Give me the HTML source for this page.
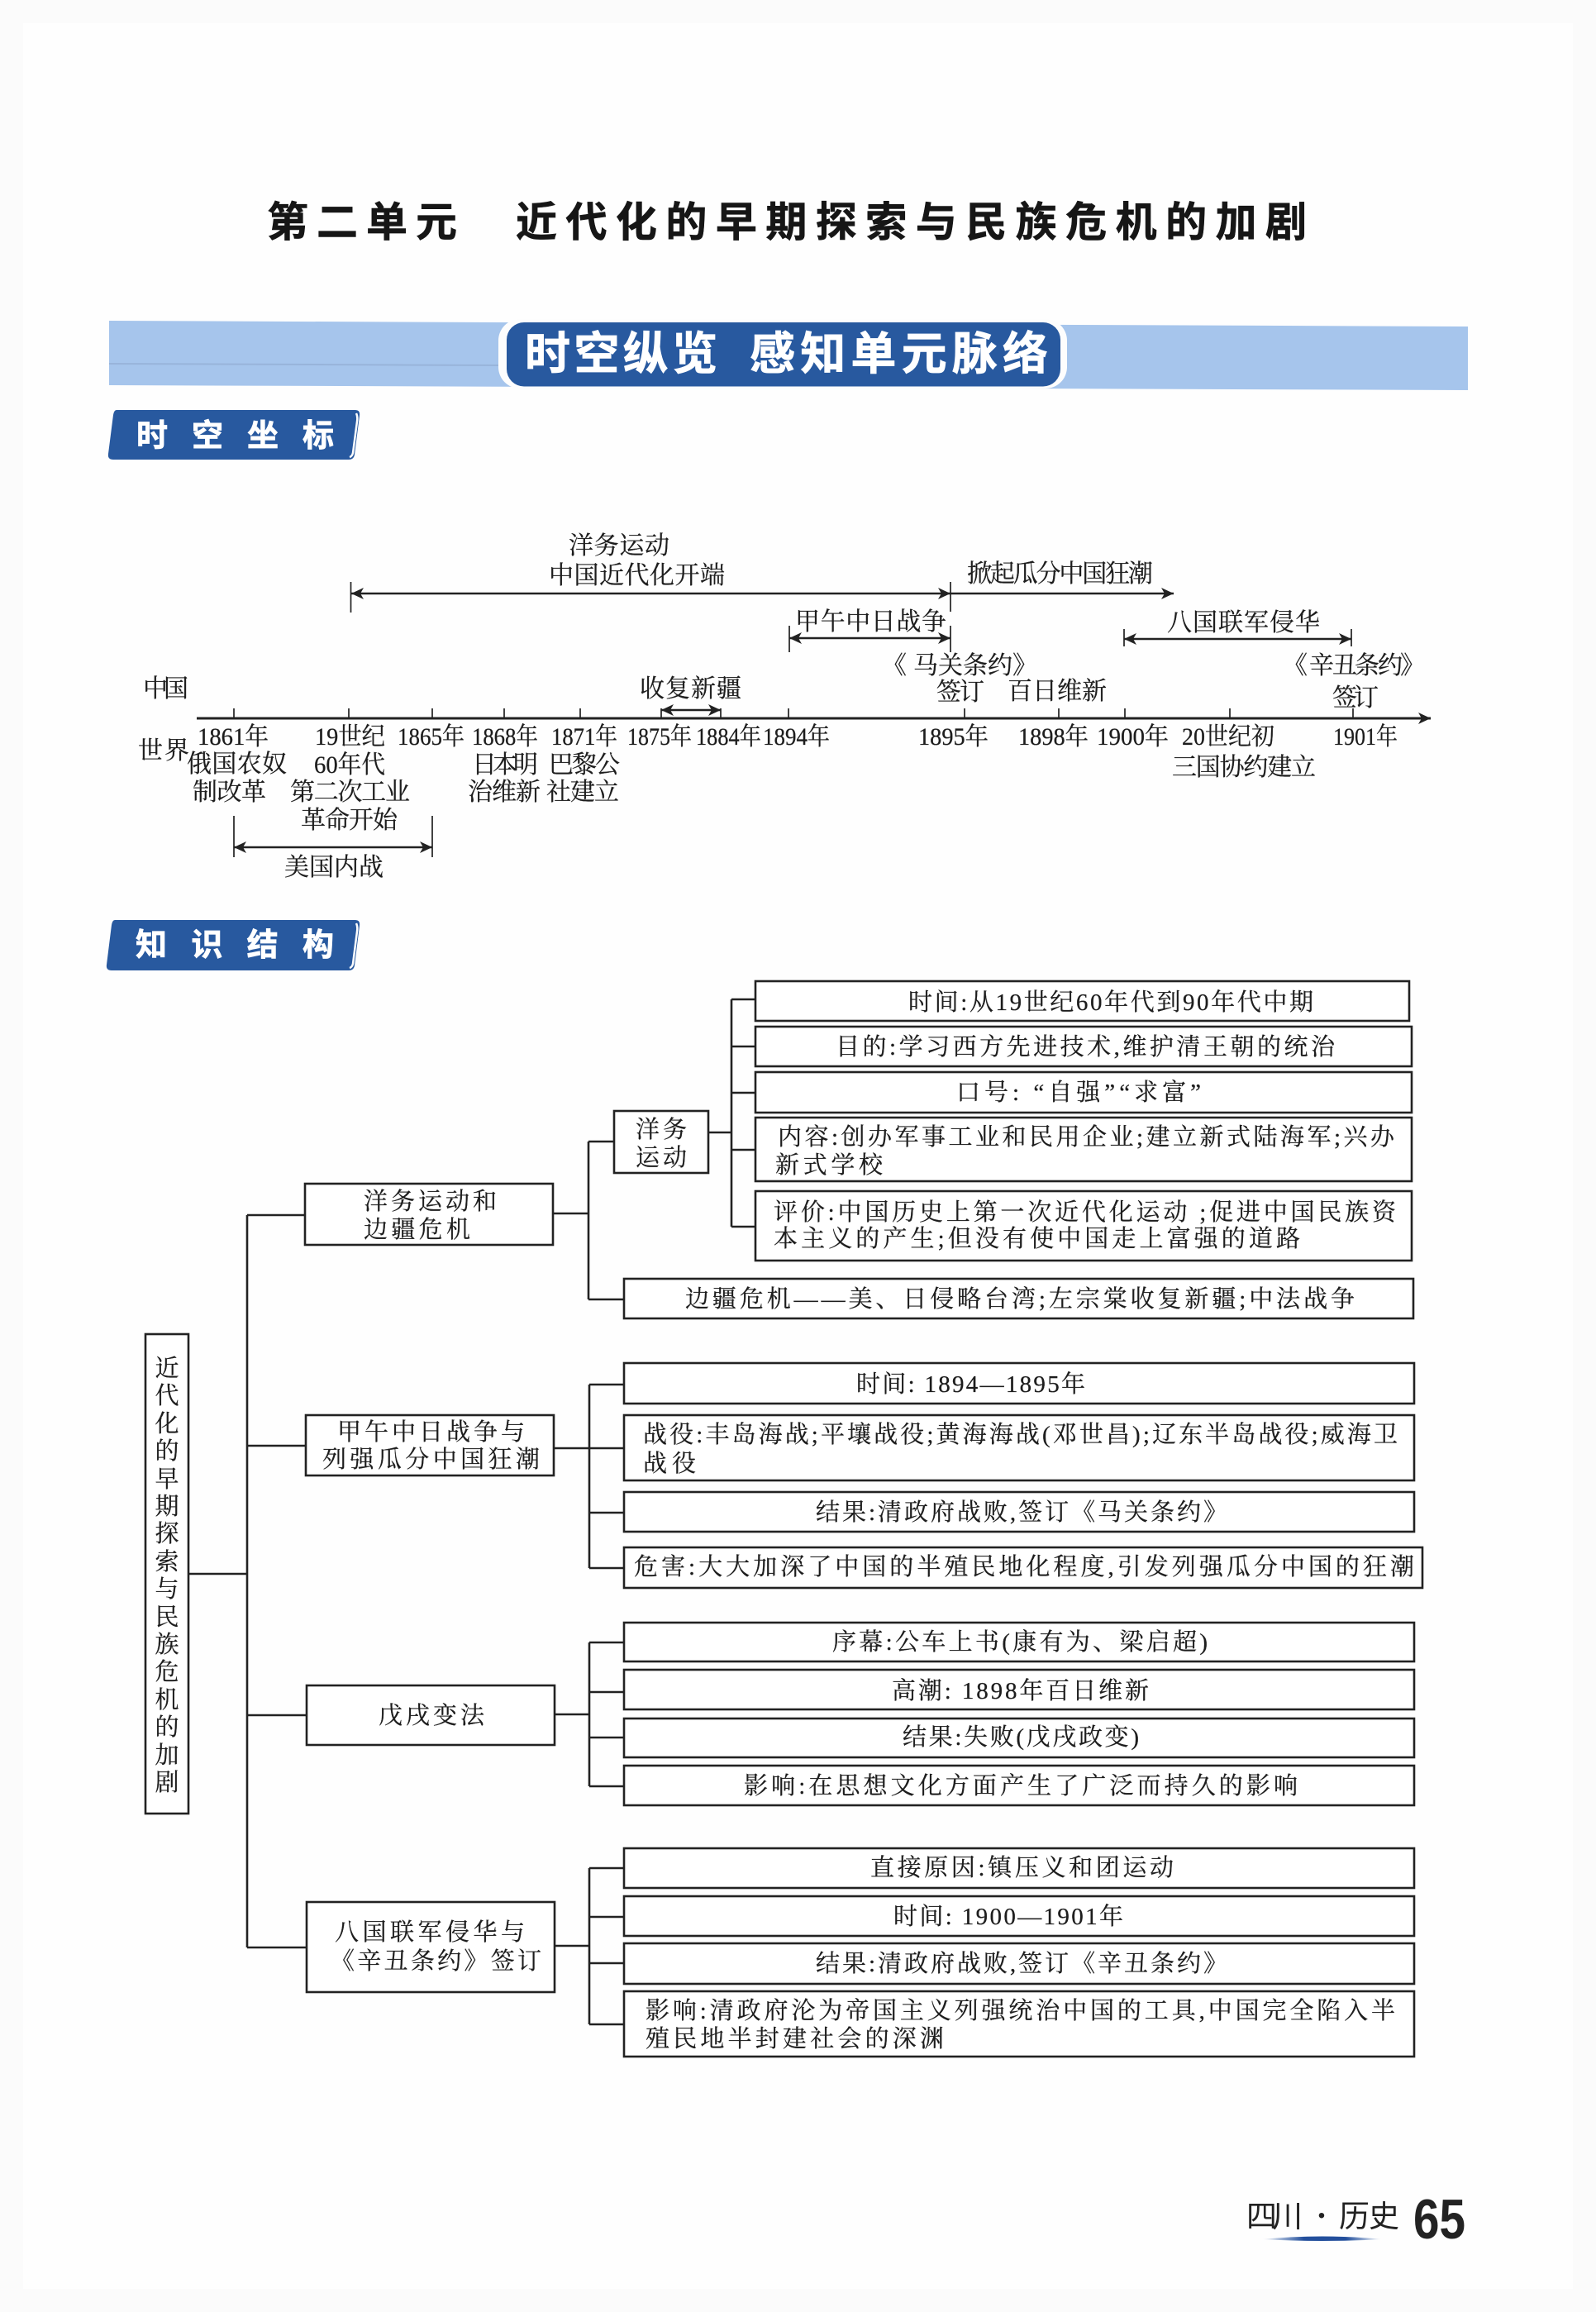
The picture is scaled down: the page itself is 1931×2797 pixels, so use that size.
<!DOCTYPE html>
<html lang="zh"><head><meta charset="utf-8"><title>第二单元</title>
<style>
html,body{margin:0;padding:0;background:#fdfdfd}
svg{display:block}
.t{font-family:"Liberation Serif","Noto Serif CJK SC",serif;font-size:29px;fill:#1d1d1d;stroke:#1d1d1d;stroke-width:.25}
.y{font-family:"Liberation Serif","Noto Serif CJK SC",serif;font-size:30px;fill:#1d1d1d;stroke:#1d1d1d;stroke-width:.25}
.s{font-family:"Liberation Sans","Noto Sans CJK SC",sans-serif;font-weight:700;fill:#fff;stroke:#fff;stroke-width:.7}
.b{fill:#fff;stroke:#222;stroke-width:2.6}
.l{fill:none;stroke:#222;stroke-width:2.6}
.thin{fill:none;stroke:#222;stroke-width:1.7}
</style></head><body>
<svg xmlns="http://www.w3.org/2000/svg" width="1931" height="2797" viewBox="0 0 1931 2797">
<defs>
<marker id="a" markerUnits="userSpaceOnUse" markerWidth="16" markerHeight="16" refX="15" refY="8" orient="auto-start-reverse"><path d="M0 1L15 8L0 15L4 8Z" fill="#222"/></marker>
<linearGradient id="st" x1="0" x2="1" y1="0" y2="0"><stop offset="0" stop-color="#2a5aa5" stop-opacity="0"/><stop offset=".35" stop-color="#234f9c"/><stop offset=".7" stop-color="#234f9c"/><stop offset="1" stop-color="#2a5aa5" stop-opacity="0"/></linearGradient>
</defs>
<rect width="1931" height="2797" fill="#fbfbfb"/>
<rect x="28" y="28" width="1875" height="2741" fill="#fefefe"/>

<!-- Title -->
<text x="323" y="286" font-family="'Liberation Sans','Noto Sans CJK SC',sans-serif" font-weight="700" font-size="50" fill="#161616" stroke="#161616" stroke-width=".6" textLength="230">第二单元</text>
<text x="624" y="286" font-family="'Liberation Sans','Noto Sans CJK SC',sans-serif" font-weight="700" font-size="50" fill="#161616" stroke="#161616" stroke-width=".6" textLength="957">近代化的早期探索与民族危机的加剧</text>

<!-- Banner -->
<path d="M132 388L1776 395V472L132 466Z" fill="#a6c5ec"/>
<path d="M132 440L612 442" stroke="#8fa8cf" stroke-width="2" opacity=".6" fill="none"/>
<rect x="603" y="386" width="688" height="84" rx="26" fill="#fdfdfd"/>
<rect x="613" y="390" width="670" height="77.5" rx="21" fill="#28599f"/>
<text class="s" x="635" y="447" font-size="55" textLength="233">时空纵览</text>
<text class="s" x="907" y="447" font-size="55" textLength="361">感知单元脉络</text>

<!-- Tag 1 -->
<path d="M141 496H430Q436 496 435 503L429 550Q428 556 422 556H137Q130 556 131 549L137 502Q138 496 141 496Z" fill="#28599f"/>
<path d="M431 500Q433 504 432 510L427 548Q426 552 423 553" fill="none" stroke="#fdfdfd" stroke-width="2.5"/>
<text class="s" x="165" y="540" font-size="38" textLength="239">时空坐标</text>

<!-- Tag 2 -->
<path d="M139 1113H430Q436 1113 435 1120L429 1168Q428 1174 422 1174H135Q128 1174 129 1167L135 1119Q136 1113 139 1113Z" fill="#28599f"/>
<path d="M431 1117Q433 1121 432 1127L427 1166Q426 1170 423 1171" fill="none" stroke="#fdfdfd" stroke-width="2.5"/>
<text class="s" x="164" y="1156" font-size="38" textLength="240">知识结构</text>

<!-- Timeline lines -->
<path class="l" d="M238 869H1731" marker-end="url(#a)" style="stroke-width:3"/>
<path class="thin" d="M283 857V869M422 857V869M523 857V869M610 857V869M702 857V869M800 857V869M872 857V869M954 857V869M1167 857V869M1281 857V869M1361 857V869M1488 857V869M1637 857V869"/>
<path class="thin" d="M424.5 704V741M1150 704V740M955 757V789M1150 757V789M1360 761V782M1635 761V782M283 987V1037M523 987V1037"/>
<path class="l" d="M425 718H1150" marker-start="url(#a)" marker-end="url(#a)"/>
<path class="l" d="M1150 718H1420" marker-end="url(#a)"/>
<path class="l" d="M955 772H1150" marker-start="url(#a)" marker-end="url(#a)"/>
<path class="l" d="M1360 773H1635" marker-start="url(#a)" marker-end="url(#a)"/>
<path class="l" d="M800 859H872" marker-start="url(#a)" marker-end="url(#a)"/>
<path class="l" d="M283 1025H523" marker-start="url(#a)" marker-end="url(#a)"/>

<!-- Timeline labels -->
<g class="y">
<text x="688" y="670" textLength="122">洋务运动</text>
<text x="664" y="706" textLength="213">中国近代化开端</text>
<text x="1170" y="704" textLength="225">掀起瓜分中国狂潮</text>
<text x="962" y="762" textLength="183">甲午中日战争</text>
<text x="1412" y="763" textLength="185">八国联军侵华</text>
<text x="1067 1105 1135 1165 1195 1225" y="815">《马关条约》</text>
<text x="1552 1584 1612 1639 1667 1694" y="815">《辛丑条约》</text>
<text x="1133" y="847" textLength="58">签订</text>
<text x="1219" y="846" textLength="120">百日维新</text>
<text x="1612" y="854" textLength="56">签订</text>
<text x="173" y="843" textLength="55">中国</text>
<text x="774" y="843" textLength="123">收复新疆</text>
</g>
<g class="y">
<text x="239" y="901" textLength="86" lengthAdjust="spacingAndGlyphs">1861年</text>
<text x="381" y="901" textLength="85" lengthAdjust="spacingAndGlyphs">19世纪</text>
<text x="481" y="901" textLength="81" lengthAdjust="spacingAndGlyphs">1865年</text>
<text x="571" y="901" textLength="80" lengthAdjust="spacingAndGlyphs">1868年</text>
<text x="667" y="901" textLength="80" lengthAdjust="spacingAndGlyphs">1871年</text>
<text x="759" y="901" textLength="78" lengthAdjust="spacingAndGlyphs">1875年</text>
<text x="842" y="901" textLength="79" lengthAdjust="spacingAndGlyphs">1884年</text>
<text x="923" y="901" textLength="81" lengthAdjust="spacingAndGlyphs">1894年</text>
<text x="1111" y="901" textLength="85" lengthAdjust="spacingAndGlyphs">1895年</text>
<text x="1232" y="901" textLength="85" lengthAdjust="spacingAndGlyphs">1898年</text>
<text x="1327" y="901" textLength="87" lengthAdjust="spacingAndGlyphs">1900年</text>
<text x="1430" y="901" textLength="112" lengthAdjust="spacingAndGlyphs">20世纪初</text>
<text x="1613" y="901" textLength="78" lengthAdjust="spacingAndGlyphs">1901年</text>
<text x="167" y="918" textLength="62">世界</text>
<text x="226" y="934" textLength="121">俄国农奴</text>
<text x="380" y="935" textLength="86" lengthAdjust="spacingAndGlyphs">60年代</text>
<text x="571" y="935" textLength="80">日本明</text>
<text x="664" y="935" textLength="86">巴黎公</text>
<text x="1418" y="938" textLength="174">三国协约建立</text>
<text x="233" y="968" textLength="89">制改革</text>
<text x="351" y="968" textLength="145">第二次工业</text>
<text x="566" y="968" textLength="88">治维新</text>
<text x="661" y="968" textLength="88">社建立</text>
<text x="364" y="1002" textLength="117">革命开始</text>
<text x="344" y="1059" textLength="120">美国内战</text>
</g>

<!-- Structure connectors -->
<path class="l" d="M227 1904H299M299 1470V2356M299 1470H370M299 1749H370M299 2075H370M299 2356H370"/>
<path class="l" d="M669 1468H712M712 1381V1572M712 1381H743M712 1572H755"/>
<path class="l" d="M857 1370H885M885 1209V1484M885 1209H914M885 1266H914M885 1322H914M885 1391H914M885 1484H914"/>
<path class="l" d="M670 1752H713M713 1675V1897M713 1675H755M713 1752H755M713 1830H755M713 1897H755"/>
<path class="l" d="M671 2074H713M713 1987V2161M713 1987H755M713 2047H755M713 2102H755M713 2161H755"/>
<path class="l" d="M671 2354H713M713 2260V2449M713 2260H755M713 2319H755M713 2375H755M713 2449H755"/>

<!-- Boxes -->
<rect class="b" x="176" y="1614" width="52" height="580"/>
<rect class="b" x="369" y="1432" width="300" height="74"/>
<rect class="b" x="370" y="1712" width="300" height="73"/>
<rect class="b" x="371" y="2039" width="300" height="72"/>
<rect class="b" x="371" y="2301" width="300" height="109"/>
<rect class="b" x="743" y="1344" width="114" height="75"/>
<rect class="b" x="914" y="1187" width="791" height="48"/>
<rect class="b" x="914" y="1242" width="794" height="48"/>
<rect class="b" x="914" y="1297" width="794" height="49"/>
<rect class="b" x="914" y="1352" width="794" height="77"/>
<rect class="b" x="914" y="1441" width="794" height="84"/>
<rect class="b" x="755" y="1547" width="955" height="48"/>
<rect class="b" x="755" y="1649" width="956" height="49"/>
<rect class="b" x="755" y="1712" width="956" height="79"/>
<rect class="b" x="755" y="1805" width="956" height="48"/>
<rect class="b" x="755" y="1872" width="966" height="49"/>
<rect class="b" x="755" y="1963" width="956" height="47"/>
<rect class="b" x="755" y="2020" width="956" height="48"/>
<rect class="b" x="755" y="2079" width="956" height="47"/>
<rect class="b" x="755" y="2136" width="956" height="48"/>
<rect class="b" x="755" y="2236" width="956" height="48"/>
<rect class="b" x="755" y="2294" width="956" height="48"/>
<rect class="b" x="755" y="2351" width="956" height="49"/>
<rect class="b" x="755" y="2409" width="956" height="79"/>

<!-- Root vertical text -->
<g class="t" text-anchor="middle">
<text x="202" y="1665">近</text><text x="202" y="1698">代</text><text x="202" y="1732">化</text><text x="202" y="1765">的</text>
<text x="202" y="1799">早</text><text x="202" y="1832">期</text><text x="202" y="1865">探</text><text x="202" y="1899">索</text>
<text x="202" y="1932">与</text><text x="202" y="1966">民</text><text x="202" y="1999">族</text><text x="202" y="2032">危</text>
<text x="202" y="2066">机</text><text x="202" y="2099">的</text><text x="202" y="2133">加</text><text x="202" y="2166">剧</text>
</g>

<!-- Structure text -->
<g class="t">
<text x="440" y="1463" textLength="161">洋务运动和</text>
<text x="440" y="1497" textLength="129">边疆危机</text>
<text x="769" y="1376" textLength="62">洋务</text>
<text x="769" y="1410" textLength="62">运动</text>
<text x="1099" y="1222" textLength="490">时间:从19世纪60年代到90年代中期</text>
<text x="1011" y="1276" textLength="604">目的:学习西方先进技术,维护清王朝的统治</text>
<text x="1157" y="1331" textLength="296">口号: “自强”“求富”</text>
<text x="941" y="1385" textLength="746">内容:创办军事工业和民用企业;建立新式陆海军;兴办</text>
<text x="938" y="1419" textLength="130">新式学校</text>
<text x="936" y="1476" textLength="753">评价:中国历史上第一次近代化运动 ;促进中国民族资</text>
<text x="936" y="1508" textLength="637">本主义的产生;但没有使中国走上富强的道路</text>
<text x="829" y="1581" textLength="810">边疆危机——美、日侵略台湾;左宗棠收复新疆;中法战争</text>
<text x="408" y="1742" textLength="227">甲午中日战争与</text>
<text x="390" y="1775" textLength="263">列强瓜分中国狂潮</text>
<text x="1036" y="1684" textLength="277">时间: 1894—1895年</text>
<text x="778" y="1745" textLength="913">战役:丰岛海战;平壤战役;黄海海战(邓世昌);辽东半岛战役;威海卫</text>
<text x="778" y="1780" textLength="64">战役</text>
<text x="987" y="1839" textLength="498">结果:清政府战败,签订《马关条约》</text>
<text x="767" y="1905" textLength="944">危害:大大加深了中国的半殖民地化程度,引发列强瓜分中国的狂潮</text>
<text x="458" y="2085" textLength="128">戊戌变法</text>
<text x="1007" y="1996" textLength="454">序幕:公车上书(康有为、梁启超)</text>
<text x="1079" y="2055" textLength="311">高潮: 1898年百日维新</text>
<text x="1092" y="2111" textLength="286">结果:失败(戊戌政变)</text>
<text x="900" y="2170" textLength="670">影响:在思想文化方面产生了广泛而持久的影响</text>
<text x="405" y="2347" textLength="230">八国联军侵华与</text>
<text x="400" y="2382" textLength="255">《辛丑条约》签订</text>
<text x="1053" y="2269" textLength="367">直接原因:镇压义和团运动</text>
<text x="1081" y="2328" textLength="278">时间: 1900—1901年</text>
<text x="987" y="2385" textLength="498">结果:清政府战败,签订《辛丑条约》</text>
<text x="781" y="2442" textLength="907">影响:清政府沦为帝国主义列强统治中国的工具,中国完全陷入半</text>
<text x="781" y="2476" textLength="361">殖民地半封建社会的深渊</text>
</g>

<!-- Footer -->
<text x="1508" y="2694" font-family="'Liberation Sans','Noto Sans CJK SC',sans-serif" font-size="37" fill="#222" textLength="68">四川</text>
<text x="1599" y="2688" text-anchor="middle" font-family="'Liberation Sans',sans-serif" font-size="24" fill="#222">•</text>
<text x="1620" y="2694" font-family="'Liberation Sans','Noto Sans CJK SC',sans-serif" font-size="37" fill="#222" textLength="73">历史</text>
<text x="1710" y="2708" font-family="'Liberation Sans',sans-serif" font-weight="700" font-size="68" fill="#222" textLength="63" lengthAdjust="spacingAndGlyphs">65</text>
<path d="M1527 2709Q1600 2702 1672 2709Q1600 2713 1527 2709Z" fill="url(#st)"/>
</svg>
</body></html>
